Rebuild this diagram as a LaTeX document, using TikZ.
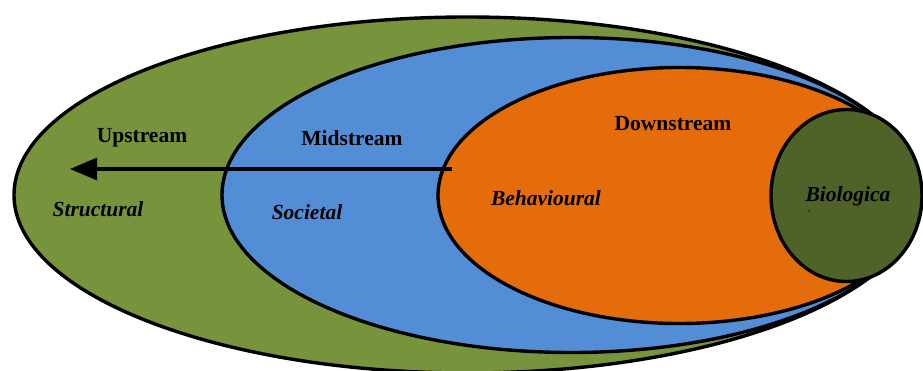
\documentclass[tikz,border=0pt]{standalone}
\usepackage{fontspec}
\setmainfont{Liberation Serif}
\usetikzlibrary{shapes.geometric,arrows.meta}
\definecolor{upgreen}{RGB}{119,147,60}
\definecolor{midblue}{RGB}{83,141,213}
\definecolor{downorange}{RGB}{228,108,10}
\definecolor{biogreen}{RGB}{79,98,40}
\tikzset{
  zone/.style={ellipse, draw=black, line width=3.4pt, inner sep=0pt},
  head/.style={font=\fontsize{21.5}{25}\selectfont\bfseries},
  level/.style={font=\fontsize{21.5}{25}\selectfont\bfseries\itshape},
  flow/.style={line width=3.2pt, -{Triangle[length=27pt,width=22pt]}}
}
\begin{document}
\begin{tikzpicture}[x=1pt,y=-1pt]
        \clip (0,0) rectangle (923,371);
        \node[zone, fill=upgreen, minimum width=907pt, minimum height=356pt] (up) at (467.5,195) {};
        \node[zone, fill=midblue, minimum width=699pt, minimum height=315pt] (mid) at (571.5,195) {};
        \node[zone, fill=downorange, minimum width=483pt, minimum height=256pt] (down) at (679.5,195.5) {};
        \node[zone, fill=biogreen, minimum width=151pt, minimum height=172pt] (bio) at (846.5,195.5) {};
        \coordinate (src) at (452,169);
        \coordinate (dst) at (70,169);
        \draw[flow] (src) -- (dst);
        \node[head] (upstream) at (142,138) {Upstream};
        \node[head] (midstream) at (352,138) {Midstream};
        \node[head] (downstream) at (673,124) {Downstream};
        \node[level] (structural) at (98,209) {Structural};
        \node[level] (societal) at (307,212) {Societal};
        \node[level] (behavioural) at (546,198) {Behavioural};
        \node[level] (biological) at (848,196) {Biologica};
        \node[font=\fontsize{9}{9}\selectfont, inner sep=0pt] (dash) at (809,212) {-};
      \end{tikzpicture}
\end{document}
